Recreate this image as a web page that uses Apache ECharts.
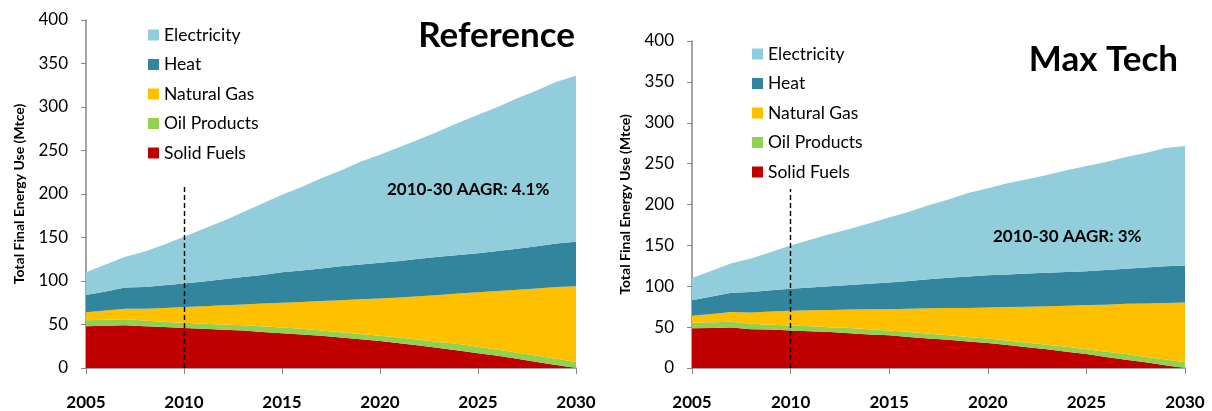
<!DOCTYPE html>
<html>
<head>
<meta charset="utf-8">
<script src="https://cdn.jsdelivr.net/npm/echarts@6/dist/echarts.min.js"></script>
<style>
  html, body { margin: 0; padding: 0; background: #fff; }
  #main { width: 1212px; height: 411px; }
</style>
</head>
<body>
<div id="main"></div>
<script>
var years = ['2005', '2006', '2007', '2008', '2009', '2010', '2011', '2012', '2013', '2014', '2015', '2016', '2017',
    '2018', '2019', '2020', '2021', '2022', '2023', '2024', '2025', '2026', '2027', '2028', '2029', '2030'];

// Reference scenario (Mtce)
var refSolid = [48, 48.5, 49, 48, 47, 46, 45, 44, 43, 41.5, 40, 38.5, 37, 35, 33, 31, 28.5, 26, 23, 20, 17, 14, 10.5, 7, 3.5, 0];
var refOil = [7, 7, 7, 6.5, 6, 6, 6, 6, 6, 6.5, 6.5, 6.5, 6, 6, 6, 6, 6.5, 6.5, 7, 7.5, 7.5, 7, 7, 7, 7, 7];
var refGas = [9, 10.5, 12, 13.5, 16, 18, 20, 22, 24, 26, 28.5, 31, 34, 37, 40, 43, 46, 50, 54, 58, 62.5, 67.5, 72.5, 77.5, 82.5, 87];
var refHeat = [20, 22, 24.5, 25, 26, 27, 28.5, 30, 31.5, 33, 35, 36, 37.5, 39, 40, 41, 42, 43, 44, 44.5, 45, 46, 47, 48.5, 50, 51];
var refElec = [26, 31, 35.5, 41, 47, 54, 60.5, 67, 74.5, 82, 89, 96, 103.5, 110, 118, 124, 131, 137.5, 144, 152, 159, 165.5, 173, 179, 186, 191];

// Max Tech scenario (Mtce)
var mtSolid = [48.5, 49, 49.5, 47.5, 47, 46, 45, 44, 42.5, 41, 40, 38, 36, 34.5, 32.5, 30.5, 28, 25.5, 23, 20, 17, 13.5, 10, 7, 3.5, 0];
var mtOil = [7, 7, 7, 6.5, 6, 6, 6, 6, 6.5, 6.5, 6, 6, 6, 5.5, 5.5, 5.5, 5.5, 5.5, 5.5, 6, 6, 6.5, 7, 6.5, 7, 7];
var mtGas = [8.5, 10, 12, 14, 16, 18, 19.5, 21, 22.5, 24.5, 26, 28.5, 31, 33.5, 35.5, 38, 41, 44, 47, 50, 54, 57.5, 61.5, 65.5, 69, 73];
var mtHeat = [19, 21.5, 23.5, 25, 26, 27, 28, 29, 30, 31, 32.5, 34, 35.5, 37, 38.5, 39.5, 40, 40.5, 41, 41.5, 41.5, 42.5, 43, 44, 45, 45.5];
var mtElec = [27, 31.5, 36, 41, 47, 53, 58.5, 64, 68.5, 74, 79.5, 84.5, 90.5, 95.5, 102, 106.5, 111.5, 115.5, 119.5, 124.5, 128.5, 132, 136.5, 140, 144.5, 146];

var names = ['Solid Fuels', 'Oil Products', 'Natural Gas', 'Heat', 'Electricity'];
var colors = ['#C00000', '#92D050', '#FFC000', '#31859C', '#92CDDC'];
var legendOrder = ['Electricity', 'Heat', 'Natural Gas', 'Oil Products', 'Solid Fuels'];

var FONT = 'Lato';

var myChart = echarts.init(document.getElementById('main'));

function makeSeries(idx, stackName, arrays, dashTop) {
    return arrays.map(function(arr, i) {
        var s = {
            name: names[i],
            type: 'line',
            xAxisIndex: idx,
            yAxisIndex: idx,
            stack: stackName,
            data: arr,
            symbol: 'none',
            lineStyle: { width: 0 },
            areaStyle: { color: colors[i], opacity: 1 },
            itemStyle: { color: colors[i] },
            z: 2
        };
        if (i === arrays.length - 1) {
            // dashed marker at the base year
            s.markLine = {
                silent: true,
                symbol: 'none',
                label: { show: false },
                lineStyle: { color: '#000', type: [5, 3], width: 1.4 },
                data: [[{ coord: ['2010', 0] }, { coord: ['2010', dashTop] }]]
            };
        }
        return s;
    });
}

function xAxisCfg(idx) {
    return {
        type: 'category',
        gridIndex: idx,
        data: years,
        boundaryGap: false,
        axisLine: { lineStyle: { color: '#868686', width: 1.5 } },
        axisTick: { interval: 4, length: 6, lineStyle: { color: '#868686' } },
        axisLabel: { interval: 4, margin: 26, color: '#000', fontFamily: FONT, fontWeight: 'bold', fontSize: 17 },
        splitLine: { show: false }
    };
}

function yAxisCfg(idx) {
    return {
        type: 'value',
        gridIndex: idx,
        min: 0,
        max: 400,
        interval: 50,
        name: 'Total Final Energy Use (Mtce)',
        nameLocation: 'middle',
        nameGap: 60,
        nameTextStyle: { color: '#000', fontFamily: FONT, fontWeight: 'bold', fontSize: 14 },
        axisLine: { show: true, lineStyle: { color: '#868686', width: 1.5 } },
        axisTick: { show: true, length: 5, lineStyle: { color: '#868686' } },
        axisLabel: { color: '#000', fontFamily: FONT, fontSize: 17, margin: 18 },
        splitLine: { show: false }
    };
}

function legendCfg(left, top) {
    return {
        data: legendOrder,
        orient: 'vertical',
        left: left,
        top: top,
        itemWidth: 11,
        itemHeight: 11,
        itemGap: 10.5,
        icon: 'rect',
        selectedMode: false,
        textStyle: { color: '#000', fontFamily: FONT, fontSize: 17.5, lineHeight: 19 }
    };
}

var option = {
    animation: false,
    backgroundColor: '#fff',
    title: [
        { text: 'Reference', right: 632, top: 13, textStyle: { fontFamily: FONT, fontWeight: 'bold', fontSize: 35, color: '#000' } },
        { text: 'Max Tech', right: 29, top: 37, textStyle: { fontFamily: FONT, fontWeight: 'bold', fontSize: 35, color: '#000' } },
        { text: '2010-30 AAGR: 4.1%', left: 382, top: 176, textStyle: { fontFamily: FONT, fontWeight: 'bold', fontSize: 17, color: '#000' } },
        { text: '2010-30 AAGR: 3%', left: 988, top: 223, textStyle: { fontFamily: FONT, fontWeight: 'bold', fontSize: 17, color: '#000' } }
    ],
    legend: [legendCfg(143, 20.5), legendCfg(747, 39.5)],
    grid: [
        { left: 86, top: 20, right: 636, bottom: 42 },
        { left: 692, top: 41, right: 27, bottom: 41 }
    ],
    xAxis: [xAxisCfg(0), xAxisCfg(1)],
    yAxis: [yAxisCfg(0), yAxisCfg(1)],
    series: makeSeries(0, 'ref', [refSolid, refOil, refGas, refHeat, refElec], 210)
        .concat(makeSeries(1, 'mt', [mtSolid, mtOil, mtGas, mtHeat, mtElec], 219))
};

myChart.setOption(option);
</script>
</body>
</html>
